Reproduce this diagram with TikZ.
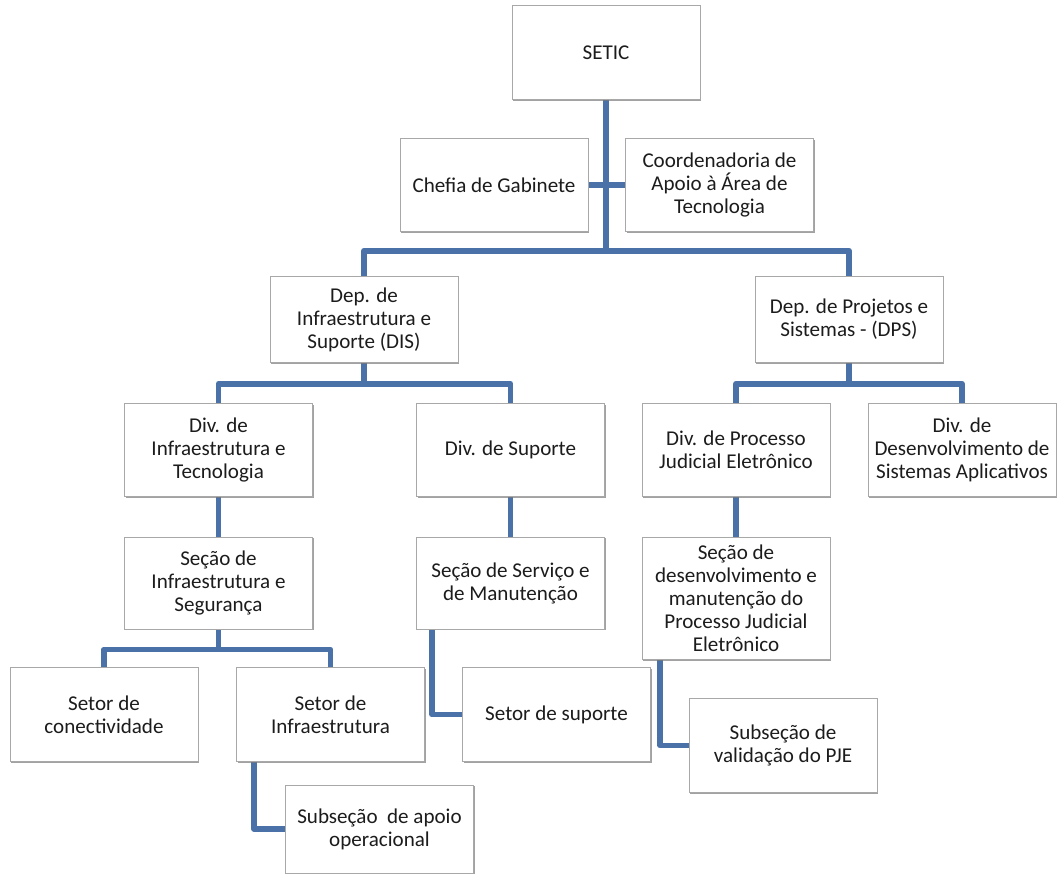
\documentclass[tikz,border=0pt]{standalone}
\usepackage{fontspec}
\setmainfont{Carlito}
\usepackage{xcolor}
\usepackage{tikz}
\usetikzlibrary{positioning,shadows,backgrounds}
\definecolor{linkblue}{HTML}{4A72A8}
\definecolor{boxline}{HTML}{A8A8A8}
\definecolor{boxshade}{HTML}{7A7A7A}
\definecolor{textdark}{HTML}{1C1C1C}
\tikzset{
  orgbox/.style={
    draw=boxline,
    fill=white,
    line width=0.7pt,
    align=center,
    text=textdark,
    font=\fontsize{15.8}{17.2}\selectfont,
    minimum width=141pt,
    inner sep=2pt,
    drop shadow={shadow xshift=1.1pt, shadow yshift=-1.1pt, fill=boxshade, opacity=0.7}
  },
  link/.style={draw=linkblue, line width=4.3pt, line join=round}
}

\begin{document}
\begin{tikzpicture}[x=0.75pt,y=-0.75pt]
  \useasboundingbox (0,0) rectangle (1058,875);

  % Top
  \node[orgbox, minimum height=70pt] (setic) at (606,52.5) {SETIC};
  \node[orgbox, minimum height=70pt] (chefia) at (494,185) {Chefia de Gabinete};
  \node[orgbox, minimum height=70pt] (coord) at (719.5,185) {Coordenadoria de\\Apoio à Área de\\Tecnologia};

  % Departments
  \node[orgbox, minimum height=64pt] (dis) at (364,319.5) {Dep. de\\Infraestrutura e\\Suporte (DIS)};
  \node[orgbox, minimum height=64pt] (dps) at (849,319.5) {Dep. de Projetos e\\Sistemas - (DPS)};

  % Divisions
  \node[orgbox, minimum height=70pt] (divit) at (218.5,450) {Div. de\\Infraestrutura e\\Tecnologia};
  \node[orgbox, minimum height=70pt] (divsup) at (510.5,450) {Div. de Suporte};
  \node[orgbox, minimum height=70pt] (divpje) at (736,450) {Div. de Processo\\Judicial Eletrônico};
  \node[orgbox, minimum height=70pt] (divdsa) at (962,450) {Div. de\\Desenvolvimento de\\Sistemas Aplicativos};

  % Sections
  \node[orgbox, minimum height=69pt] (secis) at (218.5,583) {Seção de\\Infraestrutura e\\Segurança};
  \node[orgbox, minimum height=69pt] (secsm) at (510.5,583) {Seção de Serviço e\\de Manutenção};
  \node[orgbox, minimum height=92pt] (secpje) at (736,598.5) {Seção de\\desenvolvimento e\\manutenção do\\Processo Judicial\\Eletrônico};

  % Sectors and subsections
  \node[orgbox, minimum height=71pt] (setcon) at (104,714.5) {Setor de\\conectividade};
  \node[orgbox, minimum height=71pt] (setinf) at (330.5,714.5) {Setor de\\Infraestrutura};
  \node[orgbox, minimum height=71pt] (setsup) at (556.5,714.5) {Setor de suporte};
  \node[orgbox, minimum height=66pt] (subapoio) at (379.5,829) {Subseção\ \ de apoio\\operacional};
  \node[orgbox, minimum height=71pt] (subpje) at (783,745.5) {Subseção de\\validação do PJE};

  % links
  \begin{scope}[on background layer]
    \draw[link] (setic.south) -- ++(0,151) -| (dis.north);
    \draw[link] (setic.south) -- ++(0,151) -| (dps.north);
    \draw[link] (chefia.east) -- (coord.west);
    \draw[link] (dis.south) -- ++(0,21) -| (divit.north);
    \draw[link] (dis.south) -- ++(0,21) -| (divsup.north);
    \draw[link] (dps.south) -- ++(0,21) -| (divpje.north);
    \draw[link] (dps.south) -- ++(0,21) -| (divdsa.north);
    \draw[link] (divit) -- (secis);
    \draw[link] (divsup) -- (secsm);
    \draw[link] (divpje) -- (secpje);
    \draw[link] (secis.south) -- ++(0,20) -| (setcon.north);
    \draw[link] (secis.south) -- ++(0,20) -| (setinf.north);
    \draw[link] ([xshift=12pt]secsm.south west) |- (setsup.west);
    \draw[link] ([xshift=13.5pt]setinf.south west) |- (subapoio.west);
    \draw[link] ([xshift=14pt]secpje.south west) |- (subpje.west);
  \end{scope}
\end{tikzpicture}
\end{document}
